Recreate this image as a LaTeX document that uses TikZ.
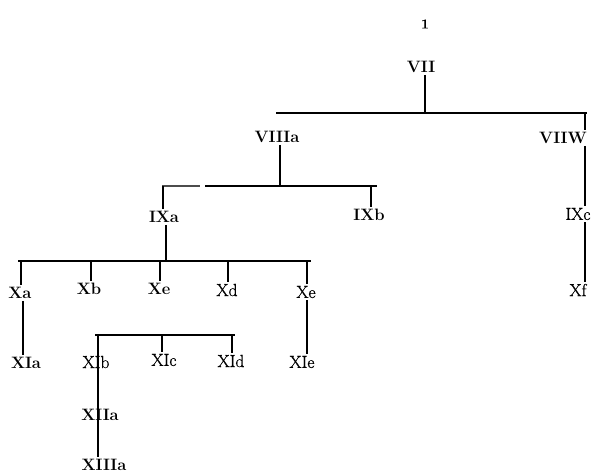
\documentclass[tikz,border=0pt]{standalone}
\usepackage{fontspec}
\newfontfamily\lmmid[FakeBold=0.9]{Latin Modern Roman}
\usetikzlibrary{positioning}
\begin{document}
\begin{tikzpicture}[x=1pt,y=-1pt,font=\fontsize{16.5}{20}\selectfont\bfseries,
    lbl/.style={inner sep=2pt},
    lt/.style={inner sep=2pt, font=\fontsize{17.5}{20}\selectfont\lmmid},
    bar/.style={line width=2.6pt},
    stem/.style={line width=2pt}]
    \useasboundingbox (0,0) rectangle (596,475);
    % labels
    \node[lbl] (pg) at (425,24) {\fontsize{13.5}{14}\selectfont\lmmid 1};
    \node[lbl] (vii) at (421,67) {VII};
    \node[lbl] (viiia) at (277,137) {VIIIa};
    \node[lbl] (viiw) at (563,138) {VIIW};
    \node[lbl] (ixa) at (164,217) {IXa};
    \node[lbl] (ixb) at (369,215) {IXb};
    \node[lt] (ixc) at (578,214) {IXc};
    \node[lbl] (xa) at (20,293) {Xa};
    \node[lbl] (xb) at (89,289) {Xb};
    \node[lbl] (xe) at (159,289) {Xe};
    \node[lt] (xd) at (227,290) {Xd};
    \node[lt] (xee) at (306,292) {Xe};
    \node[lt] (xf) at (578,290) {Xf};
    \node[lbl] (xia) at (26,363) {XIa};
    \node[lt] (xib) at (96,362) {XIb};
    \node[lt] (xic) at (164,360) {XIc};
    \node[lt] (xid) at (231,361) {XId};
    \node[lt] (xie) at (302,362) {XIe};
    \node[lbl] (xiia) at (100,415) {XIIa};
    \node[lbl] (xiiia) at (104,465) {XIIIa};
    % bars
    \coordinate (b1) at (425,113);
    \coordinate (b1r) at (585,113);
    \draw[bar] (276,113) -- (587,113);
    \coordinate (b2) at (280,186);
    \coordinate (b2l) at (163,186);
    \coordinate (b2r) at (371,186);
    \draw[line width=1.4pt, black!70] (162,186) -- (200,186);
    \draw[bar] (205,186) -- (377,186);
    \coordinate (b3) at (166,261);
    \draw[bar] (18,261) -- (311,261);
    \coordinate (b4) at (98,335);
    \draw[bar] (95,335) -- (235,335);
    % stems
    \draw[stem] (vii.south -| b1) -- (b1);
    \draw[stem] (b1r) -- (viiw.north -| b1r);
    \draw[stem] (viiw.south -| b1r) -- (ixc.north -| b1r);
    \draw[stem] (ixc.south -| b1r) -- (xf.north -| b1r);
    \draw[stem] (viiia.south -| b2) -- (b2);
    \draw[stem] (b2l) -- (ixa.north -| b2l);
    \draw[stem] (b2r) -- (ixb.north -| b2r);
    \draw[stem] (ixa.south -| b3) -- (b3);
    \draw[stem] (xa.north -| 21,0) -- (21,261);
    \draw[stem] (xb.north -| 91,0) -- (91,261);
    \draw[stem, line width=1.4pt] (xe.north -| 160,0) -- (160,261);
    \draw[stem] (xd.north -| 228,0) -- (228,261);
    \draw[stem] (xee.north -| 307,0) -- (307,261);
    \draw[stem] (xa.south -| 23,0) -- (xia.north -| 23,0);
    \draw[stem] (xee.south -| 307,0) -- (xie.north -| 307,0);
    \draw[stem] (b4) -- (xiiia.north -| b4);
    \draw[stem] (xic.north -| 162,0) -- (162,335);
    \draw[stem] (xid.north -| 232,0) -- (232,335);
\end{tikzpicture}
\end{document}
